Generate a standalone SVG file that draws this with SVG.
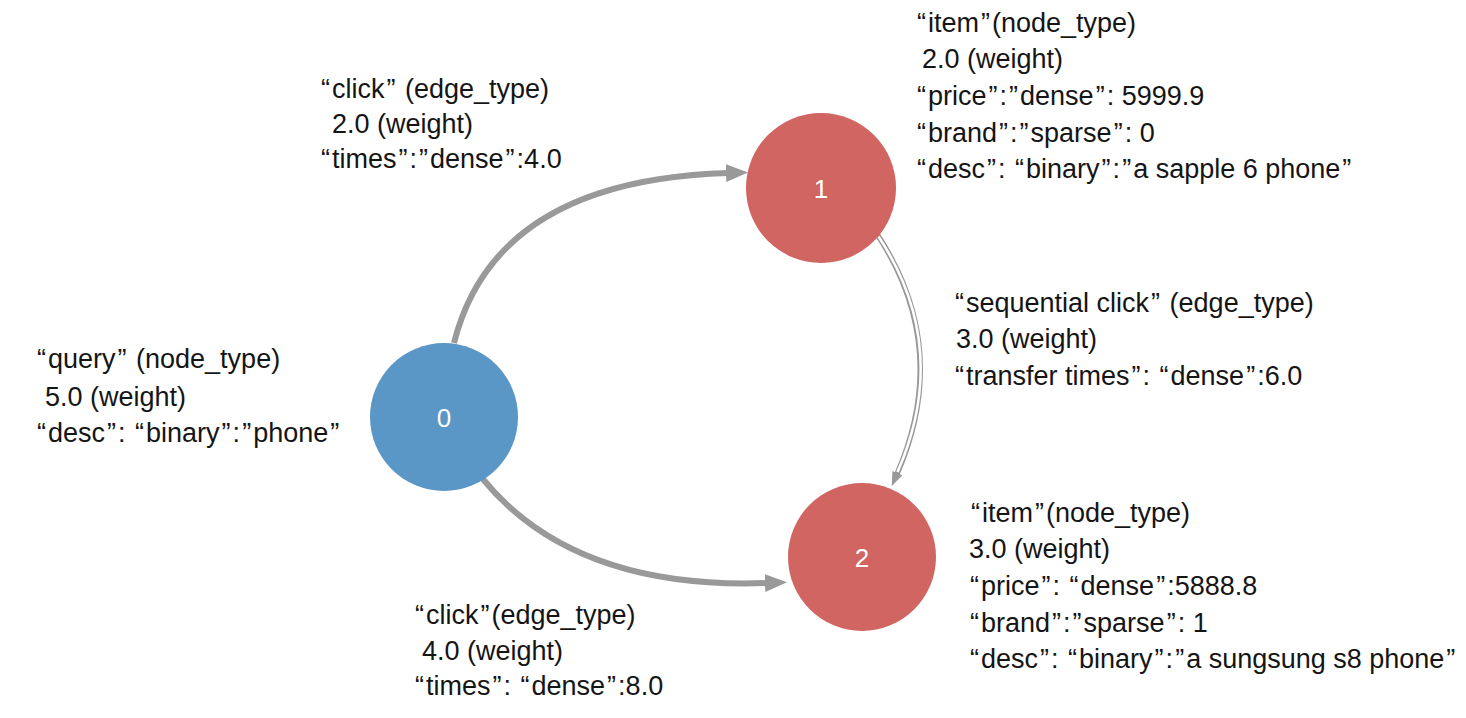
<svg xmlns="http://www.w3.org/2000/svg" width="1466" height="718" viewBox="0 0 1466 718">
<style>
  text { font-family: "Liberation Sans", Arial, Helvetica, sans-serif; font-size: 27px; fill: #151515; }
  .q { letter-spacing: 2px; }
  .num { fill: #ffffff; font-size: 26px; text-anchor: middle; }
  .edge { fill: none; stroke: #999999; stroke-width: 6; }
  .dbl-out { fill: none; stroke: #999999; stroke-width: 5.5; }
  .dbl-in { fill: none; stroke: #ffffff; stroke-width: 2.5; }
  .query { fill: #5a96c6; }
  .item { fill: #d06561; }
</style>
<defs>
  <marker id="arrow" markerUnits="userSpaceOnUse" markerWidth="24" markerHeight="20" refX="2" refY="9" orient="auto" viewBox="0 0 24 20">
    <path d="M0,0 L22,9 L0,18 Z" fill="#999999"/>
  </marker>
  <marker id="arrow-small" markerUnits="userSpaceOnUse" markerWidth="16" markerHeight="12" refX="1" refY="5.5" orient="auto" viewBox="0 0 16 12">
    <path d="M0,0 L14,5.5 L0,11 Z" fill="#999999"/>
  </marker>
</defs>
<rect width="1466" height="718" fill="#ffffff"/>

<g id="connectors">
  <path id="edge-0-1" class="edge" d="M454,343 Q495,180 728,173" marker-end="url(#arrow)"/>
  <path id="edge-0-2" class="edge" d="M482,478 Q573,590 767,583" marker-end="url(#arrow)"/>
  <g id="edge-1-2">
    <path class="dbl-out" d="M877,234 Q952,348 897,474" marker-end="url(#arrow-small)"/>
    <path class="dbl-in" d="M878.5,236.5 Q952,348 897.5,472"/>
  </g>
</g>

<g id="edge-labels">
  <g id="label-edge-0-1">
    <text x="319" y="98"><tspan class="q" dx="2">“</tspan>click<tspan class="q" dx="2">”</tspan> (edge_type)</text>
    <text x="332" y="133">2.0 (weight)</text>
    <text x="319" y="168"><tspan class="q" dx="2">“</tspan>times<tspan class="q" dx="2">”</tspan>:<tspan class="q" dx="2">”</tspan>dense<tspan class="q" dx="2">”</tspan>:4.0</text>
  </g>
  <g id="label-edge-1-2">
    <text x="953" y="311.7"><tspan class="q" dx="2">“</tspan>sequential click<tspan class="q" dx="2">”</tspan> (edge_type)</text>
    <text x="956" y="348.3">3.0 (weight)</text>
    <text x="953" y="385"><tspan class="q" dx="2">“</tspan>transfer times<tspan class="q" dx="2">”</tspan>: <tspan class="q" dx="2">“</tspan>dense<tspan class="q" dx="2">”</tspan>:6.0</text>
  </g>
  <g id="label-edge-0-2">
    <text x="413" y="624.3"><tspan class="q" dx="2">“</tspan>click<tspan class="q" dx="2">”</tspan>(edge_type)</text>
    <text x="422" y="660">4.0 (weight)</text>
    <text x="413" y="695"><tspan class="q" dx="2">“</tspan>times<tspan class="q" dx="2">”</tspan>: <tspan class="q" dx="2">“</tspan>dense<tspan class="q" dx="2">”</tspan>:8.0</text>
  </g>
</g>

<g id="node-0">
  <circle class="query" cx="444" cy="417" r="74"/>
  <text class="num" x="444" y="426.5">0</text>
  <text x="35" y="368"><tspan class="q" dx="2">“</tspan>query<tspan class="q" dx="2">”</tspan> (node_type)</text>
  <text x="45" y="405.5">5.0 (weight)</text>
  <text x="35" y="442"><tspan class="q" dx="2">“</tspan>desc<tspan class="q" dx="2">”</tspan>: <tspan class="q" dx="2">“</tspan>binary<tspan class="q" dx="2">”</tspan>:<tspan class="q" dx="2">”</tspan>phone<tspan class="q" dx="2">”</tspan></text>
</g>

<g id="node-1">
  <circle class="item" cx="821" cy="188" r="75"/>
  <text class="num" x="821" y="197.5">1</text>
  <text x="915" y="31.7"><tspan class="q" dx="2">“</tspan>item<tspan class="q" dx="2">”</tspan>(node_type)</text>
  <text x="922" y="68.3">2.0 (weight)</text>
  <text x="915" y="105"><tspan class="q" dx="2">“</tspan>price<tspan class="q" dx="2">”</tspan>:<tspan class="q" dx="2">”</tspan>dense<tspan class="q" dx="2">”</tspan>: 5999.9</text>
  <text x="915" y="141.7"><tspan class="q" dx="2">“</tspan>brand<tspan class="q" dx="2">”</tspan>:<tspan class="q" dx="2">”</tspan>sparse<tspan class="q" dx="2">”</tspan>: 0</text>
  <text x="915" y="178.3"><tspan class="q" dx="2">“</tspan>desc<tspan class="q" dx="2">”</tspan>: <tspan class="q" dx="2">“</tspan>binary<tspan class="q" dx="2">”</tspan>:<tspan class="q" dx="2">”</tspan>a sapple 6 phone<tspan class="q" dx="2">”</tspan></text>
</g>

<g id="node-2">
  <circle class="item" cx="862" cy="557" r="74"/>
  <text class="num" x="862" y="566.5">2</text>
  <text x="969" y="521.7"><tspan class="q" dx="2">“</tspan>item<tspan class="q" dx="2">”</tspan>(node_type)</text>
  <text x="969" y="558.3">3.0 (weight)</text>
  <text x="968" y="595"><tspan class="q" dx="2">“</tspan>price<tspan class="q" dx="2">”</tspan>: <tspan class="q" dx="2">“</tspan>dense<tspan class="q" dx="2">”</tspan>:5888.8</text>
  <text x="968" y="631.7"><tspan class="q" dx="2">“</tspan>brand<tspan class="q" dx="2">”</tspan>:<tspan class="q" dx="2">”</tspan>sparse<tspan class="q" dx="2">”</tspan>: 1</text>
  <text x="968" y="668.3"><tspan class="q" dx="2">“</tspan>desc<tspan class="q" dx="2">”</tspan>: <tspan class="q" dx="2">“</tspan>binary<tspan class="q" dx="2">”</tspan>:<tspan class="q" dx="2">”</tspan>a sungsung s8 phone<tspan class="q" dx="2">”</tspan></text>
</g>
</svg>
